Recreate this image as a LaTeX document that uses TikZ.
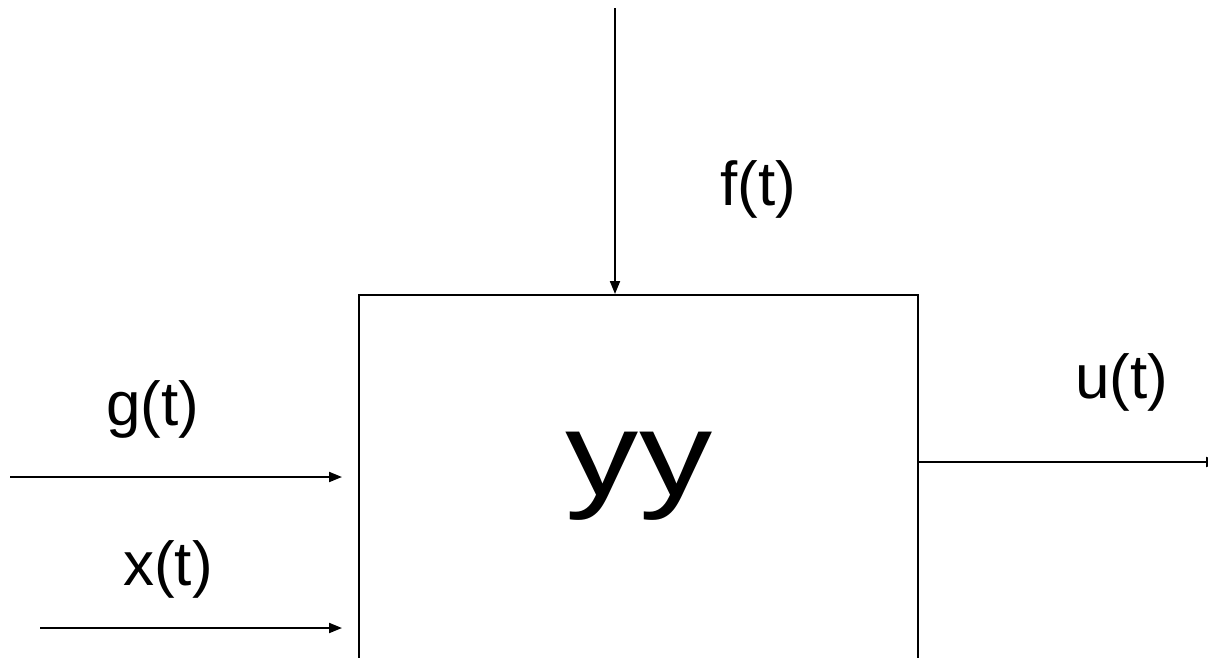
\documentclass[tikz,border=0pt]{standalone}
\usepackage{fontspec}
\setmainfont{Liberation Sans}
\usetikzlibrary{arrows.meta}
\begin{document}
\begin{tikzpicture}[x=1pt,y=-1pt,
  lbl/.style={anchor=base,inner sep=0pt,font=\fontsize{62}{70}\selectfont},
  arr/.style={line width=2pt,-{Triangle[length=13pt,width=10pt]}},
  conn/.style={line width=2pt}]
\useasboundingbox (0,0) rectangle (1208,657);
\clip (0,0) rectangle (1208,657);
\fill[white] (0,0) rectangle (1208,657);
% block
\node[draw,line width=2pt,rectangle,minimum width=559pt,minimum height=430pt,inner sep=0pt] (box) at (638.5,510) {};
\node[anchor=base,inner sep=0pt,font=\fontsize{120}{130}\selectfont,xscale=1.22] (yy) at (639,495) {yy};
% inputs and output
\coordinate (ftop) at (615,8);
\coordinate (gin) at (10,477);
\coordinate (xin) at (40,628);
\coordinate (gend) at ([xshift=-16pt]box.west);
\coordinate (uout) at (1219,462);
\draw[arr] (ftop) -- (ftop |- box.north);
\draw[arr] (gin) -- (gin -| gend);
\draw[arr] (xin) -- (xin -| gend);
\draw[arr] (box.east |- uout) -- (uout);
% labels
\node[lbl] (f) at (758,205) {f(t)};
\node[lbl] (g) at (153,425) {g(t)};
\node[lbl] (x) at (168,585) {x(t)};
\node[lbl] (u) at (1122,398) {u(t)};
\end{tikzpicture}
\end{document}
